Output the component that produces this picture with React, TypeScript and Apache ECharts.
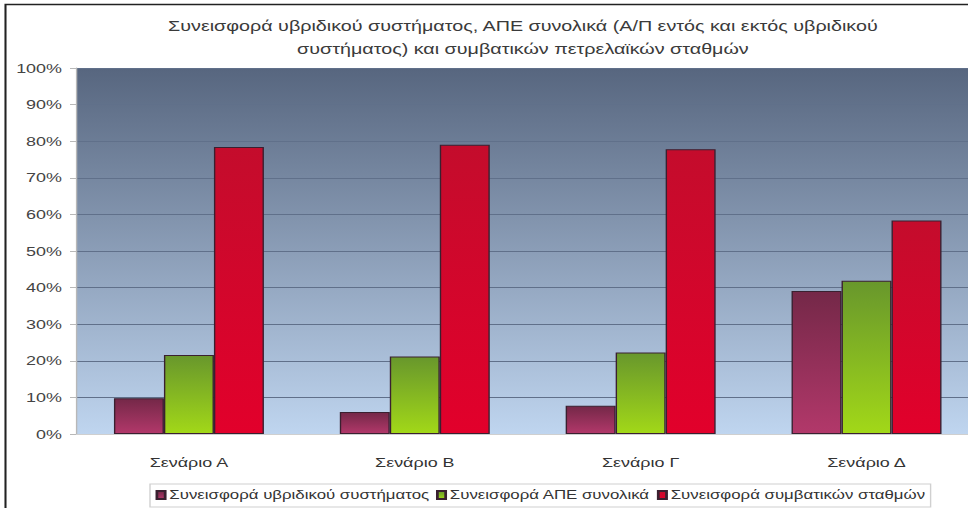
import React, { useEffect, useRef } from "react";
import * as echarts from "echarts";

const categories = ["Σενάριο Α", "Σενάριο Β", "Σενάριο Γ", "Σενάριο Δ"];
const seriesNames = [
  "Συνεισφορά υβριδικού συστήματος",
  "Συνεισφορά ΑΠΕ συνολικά",
  "Συνεισφορά συμβατικών σταθμών",
];
const hybridValues = [9.8, 6.0, 7.7, 39.1];
const resValues = [21.6, 21.2, 22.3, 41.9];
const conventionalValues = [78.4, 79.0, 77.8, 58.3];
const titleText =
  "Συνεισφορά υβριδικού συστήματος, ΑΠΕ συνολικά (Α/Π εντός και εκτός υβριδικού\nσυστήματος) και συμβατικών πετρελαϊκών σταθμών";

// The reference's text is horizontally stretched; the chart is laid out in a
// narrower box and stretched back to full width with CSS.
const S = 1.38;
const X = (px: number) => px / S;

const grad = (top: string, bottom: string) =>
  new echarts.graphic.LinearGradient(0, 0, 0, 1, [
    { offset: 0, color: top },
    { offset: 1, color: bottom },
  ]);

export default function App() {
  const ref = useRef<HTMLDivElement>(null);
  useEffect(() => {
    if (!ref.current) return;
    const chart = echarts.init(ref.current, undefined, { renderer: "svg" });
    const font = "'Liberation Sans', Arial, sans-serif";
    const mk = (name: string, data: number[], top: string, bottom: string) => ({
      name,
      type: "bar",
      data,
      barGap: "0%",
      barCategoryGap: "33.6%",
      itemStyle: { color: grad(top, bottom), borderColor: "#3a2030", borderWidth: 1 },
      emphasis: { disabled: true },
    });
    chart.setOption({
      animation: false,
      backgroundColor: "#ffffff",
      textStyle: { fontFamily: font },
      title: {
        text: titleText,
        left: X(516),
        top: 10,
        textAlign: "center",
        textStyle: {
          fontFamily: font,
          fontSize: 14.3,
          fontWeight: "normal",
          color: "#3a3a3a",
          lineHeight: 23,
        },
      },
      grid: {
        left: X(76),
        right: X(10),
        top: 68,
        bottom: 74,
        show: true,
        borderWidth: 0,
        backgroundColor: grad("#57667f", "#bfd5ef"),
      },
      xAxis: {
        type: "category",
        data: categories,
        axisLine: { show: true, lineStyle: { color: "#cfcfcf" } },
        axisTick: { show: false },
        axisLabel: { color: "#333", fontSize: 13, margin: 22, fontFamily: font },
      },
      yAxis: {
        type: "value",
        min: 0,
        max: 100,
        interval: 10,
        axisLine: { show: true, lineStyle: { color: "#b8b8b8" } },
        axisTick: { show: true, length: X(6), lineStyle: { color: "#b8b8b8" } },
        axisLabel: {
          color: "#444",
          fontSize: 13,
          margin: X(14),
          fontFamily: font,
          formatter: (v: number) => v + "%",
        },
        splitLine: { show: true, lineStyle: { color: "#60708a", width: 1 } },
      },
      legend: {
        data: seriesNames,
        left: X(150),
        top: 484,
        itemWidth: 6,
        itemHeight: 8,
        itemGap: 5,
        padding: [5, 4, 6, 4],
        borderColor: "#d0d0d0",
        borderWidth: 1,
        icon: "rect",
        textStyle: { color: "#333", fontSize: 12.2, fontFamily: font, padding: [0, 0, 0, -2] },
      },
      color: ["#8a2e55", "#7fb82a", "#d80028"],
      series: [
        mk(seriesNames[0], hybridValues, "#742848", "#b2386a"),
        mk(seriesNames[1], resValues, "#68972c", "#a2d818"),
        mk(seriesNames[2], conventionalValues, "#c40c2c", "#e2002b"),
      ],
      graphic: [
        {
          type: "rect",
          z: 100,
          shape: { x: X(5.5), y: 4.5, width: 1100, height: 700 },
          style: { fill: "none", stroke: "#222", lineWidth: 1.5 },
          silent: true,
        },
      ],
    });
    return () => chart.dispose();
  }, []);
  return (
    <div
      style={{
        position: "fixed",
        left: 0,
        top: 0,
        width: 968,
        height: 508,
        overflow: "hidden",
        background: "#fff",
      }}
    >
      <div
        style={{
          width: X(990),
          height: 508,
          transform: `scaleX(${S})`,
          transformOrigin: "0 0",
        }}
      >
        <div ref={ref} style={{ width: X(990), height: 508 }} />
      </div>
    </div>
  );
}
